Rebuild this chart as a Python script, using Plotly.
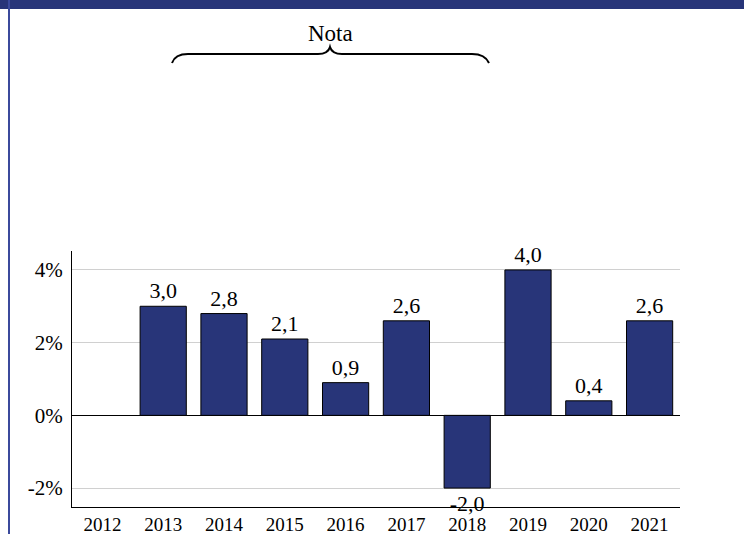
import plotly.graph_objects as go

years = ["2012", "2013", "2014", "2015", "2016", "2017", "2018", "2019", "2020", "2021"]
growth = [None, 3.0, 2.8, 2.1, 0.9, 2.6, -2.0, 4.0, 0.4, 2.6]
y_tickvals = [-2, 0, 2, 4]
y_ticktext = ["-2%", "0%", "2%", "4%"]
brace_label = "Nota"

labels = ["" if v is None else f"{v:.1f}".replace(".", ",") for v in growth]

W, H = 744, 534
L, R, T, B = 72, 680, 251, 507
def px(x):
    return (x - L) / (R - L)
def py(y):
    return (B - y) / (B - T)

SERIF = "Liberation Serif, Times New Roman, serif"
NAVY = "#283579"

fig = go.Figure(go.Bar(
    x=years, y=growth, text=labels, textposition="outside",
    textfont=dict(family=SERIF, size=22, color="black"),
    marker=dict(color=NAVY, line=dict(color="black", width=1)),
    width=0.76, cliponaxis=False, hoverinfo="skip",
))

pts = [(172, 63), (175, 54), (188, 54), (318, 54), (328, 54), (330, 47),
       (332, 54), (342, 54), (472, 54), (485, 54), (489, 63)]
P = [f"{px(a):.5f},{py(b):.5f}" for a, b in pts]
path = (f"M {P[0]} Q {P[1]} {P[2]} L {P[3]} Q {P[4]} {P[5]} "
        f"Q {P[6]} {P[7]} L {P[8]} Q {P[9]} {P[10]}")

shapes = [
    dict(type="rect", xref="paper", yref="paper", x0=px(0), x1=px(744), y0=py(0), y1=py(9),
         fillcolor=NAVY, line=dict(width=0), layer="above"),
    dict(type="line", xref="paper", yref="paper", x0=px(9), x1=px(9), y0=py(0), y1=py(534),
         line=dict(color="#3b4a9c", width=2)),
    dict(type="path", xref="paper", yref="paper", path=path, line=dict(color="black", width=2)),
]

fig.update_layout(
    width=W, height=H,
    margin=dict(l=L, r=W - R, t=T, b=H - B, pad=0),
    paper_bgcolor="white", plot_bgcolor="white",
    showlegend=False,
    font=dict(family=SERIF, size=21, color="black"),
    shapes=shapes,
    annotations=[dict(text=brace_label, xref="paper", yref="paper", x=px(330), y=py(33),
                      showarrow=False, font=dict(family=SERIF, size=23, color="black"),
                      xanchor="center", yanchor="middle")],
    xaxis=dict(type="category", categoryorder="array", categoryarray=years, range=[-0.5, 9.5],
               showline=True, linecolor="black", linewidth=1, ticks="", showgrid=False,
               tickfont=dict(family=SERIF, size=19), ticklabelstandoff=0, automargin=False),
    yaxis=dict(range=[-2.52, 4.52], tickvals=y_tickvals, ticktext=y_ticktext,
               showline=True, linecolor="black", linewidth=1, showgrid=True,
               gridcolor="#d0d0d0", gridwidth=1, zeroline=True, zerolinecolor="black",
               zerolinewidth=1, ticks="", tickfont=dict(family=SERIF, size=21),
               ticklabelstandoff=4, automargin=False),
)

fig.write_html("out.html", config={"displayModeBar": False},
               post_script="document.body.style.margin='0';document.body.style.overflow='hidden';")
